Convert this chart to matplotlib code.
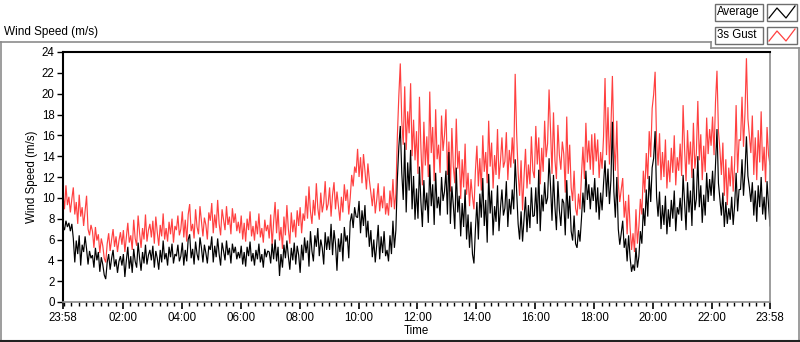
import matplotlib
matplotlib.use("Agg")
import matplotlib.pyplot as plt
from matplotlib.lines import Line2D
from matplotlib.patches import Rectangle

plt.rcParams['font.family'] = ['Liberation Sans', 'DejaVu Sans']

# ---------------- data (3-minute samples starting 23:58) ----------------
sample_minutes = 3

gust = [
    10.4, 8.9, 11.2, 9.3, 10.1, 8.6, 9.9, 11.0, 8.4, 9.6, 7.5, 10.3, 8.2, 9.1, 7.3, 8.8, 10.2, 7.0, 6.4, 7.4,
    6.8, 5.2, 7.2, 5.9, 6.5, 4.7, 6.1, 5.4, 4.2, 3.8, 5.6, 6.6, 4.9, 6.0, 7.0, 5.3, 6.3, 4.8, 5.9, 6.7,
    5.5, 6.9, 4.8, 6.2, 7.6, 5.7, 6.4, 5.0, 7.9, 6.1, 5.4, 8.3, 6.6, 5.2, 7.1, 6.0, 8.4, 5.8, 6.9, 7.5,
    6.2, 7.8, 5.6, 8.2, 6.7, 5.4, 7.4, 6.3, 8.5, 6.0, 7.1, 5.8, 7.7, 6.5, 8.0, 5.7, 7.3, 6.9, 8.3, 6.4,
    7.0, 8.7, 6.2, 7.9, 5.8, 8.4, 9.4, 6.8, 7.5, 6.1, 8.9, 7.2, 6.5, 9.2, 7.7, 6.3, 8.1, 7.4, 6.0, 8.6,
    7.8, 9.5, 6.6, 8.4, 7.1, 9.8, 7.5, 6.4, 8.9, 7.9, 6.9, 9.2, 7.4, 8.2, 6.5, 9.0, 7.6, 8.5, 6.8, 7.7,
    6.6, 8.3, 6.0, 7.6, 5.8, 8.0, 6.9, 8.7, 6.3, 7.3, 5.9, 7.8, 6.5, 8.5, 6.2, 7.1, 5.7, 7.9, 6.8, 7.4,
    6.1, 8.4, 5.4, 7.7, 9.6, 6.6, 8.9, 5.9, 7.2, 5.1, 8.2, 6.4, 9.3, 7.0, 5.6, 8.6, 6.7, 7.9, 6.2, 8.8,
    7.3, 9.1, 6.6, 8.5, 7.8, 10.2, 8.0, 11.1, 8.7, 7.5, 9.8, 8.3, 11.4, 9.0, 7.9, 10.5, 8.6, 9.5, 11.6, 8.8,
    9.4, 11.0, 8.2, 10.3, 11.5, 8.9, 10.6, 9.2, 7.8, 10.1, 8.6, 11.3, 9.7, 10.8, 8.4, 10.0, 12.2, 11.1, 13.0, 12.4,
    14.7, 12.0, 13.9, 11.4, 14.2, 12.6, 10.8, 13.3, 11.7, 10.5, 9.2, 10.9, 8.5, 9.8, 11.4, 8.7, 10.2, 9.0, 11.1, 8.4,
    9.5, 8.3, 10.7, 9.1, 11.8, 8.9, 10.4, 15.9, 19.8, 22.9, 17.4, 15.1, 20.7, 14.6, 18.3, 16.2, 21.0, 14.0, 17.5, 13.6,
    16.4, 12.3, 19.7, 14.8, 11.2, 17.3, 13.1, 15.9, 12.0, 20.2, 14.3, 16.8, 11.6, 18.5, 13.7, 15.1, 12.4, 17.9, 14.5, 16.0,
    18.5, 12.2, 15.4, 10.6, 16.7, 13.0, 11.4, 17.6, 12.8, 14.5, 9.9, 13.7, 11.0, 15.2, 10.3, 12.4, 9.2, 11.8, 10.1, 8.9,
    12.6, 15.0, 11.1, 13.8, 10.7, 16.0, 12.5, 14.4, 11.4, 17.4, 13.0, 15.3, 10.9, 14.1, 12.2, 16.6, 11.8, 13.5, 15.8, 12.9,
    13.5, 16.3, 11.7, 14.6, 12.9, 15.8, 13.3, 21.9, 16.1, 12.4, 10.2, 13.6, 8.8, 12.0, 14.7, 10.9, 13.2, 11.3, 15.9, 12.6,
    11.9, 16.9, 13.2, 15.8, 11.3, 14.8, 12.5, 17.4, 13.9, 15.2, 20.4, 16.5, 12.3, 18.2, 13.6, 11.8, 17.0, 14.1, 12.7, 15.4,
    14.2, 10.5, 17.8, 12.3, 15.1, 11.0, 9.7, 12.6, 9.0, 8.3, 10.4, 8.9, 12.2, 14.9, 11.8, 17.2, 13.4, 15.5, 12.7, 16.1,
    12.2, 16.2, 13.5, 15.6, 11.9, 14.4, 12.8, 15.9, 21.5, 14.1, 18.7, 13.2, 16.8, 21.7, 15.3, 12.6, 17.4, 11.3, 9.6, 10.8,
    11.9, 8.1, 9.7, 6.5, 10.3, 7.2, 5.0, 6.6, 4.8, 8.9, 5.6, 7.3, 9.9, 8.4, 12.6, 10.5, 14.3, 11.8, 16.4, 13.9,
    18.6, 19.9, 22.1, 15.4, 13.1, 16.2, 11.7, 14.4, 12.0, 15.6, 10.9, 13.6, 11.5, 14.8, 12.4, 16.0, 11.2, 13.9, 12.6, 15.2,
    12.1, 18.9, 14.7, 11.6, 16.5, 13.2, 15.4, 11.9, 17.2, 12.8, 14.3, 19.3, 13.6, 16.1, 11.7, 15.0, 12.5, 17.7, 14.2, 16.6,
    15.0, 17.8, 14.1, 19.2, 22.2, 16.4, 14.6, 12.2, 15.3, 10.2, 13.7, 9.3, 12.9, 11.1, 14.0, 10.6, 13.3, 18.9, 12.4, 15.6,
    15.5, 19.7, 14.9, 18.1, 23.4, 17.6, 16.0, 14.3, 17.9, 12.2, 15.8, 11.7, 16.5, 13.4, 18.3, 12.6, 14.9, 11.5, 16.8, 14.1,
    13.2,
]

average = [
    7.3, 6.9, 7.8, 7.2, 7.6, 6.8, 7.5, 6.1, 3.8, 5.9, 4.6, 6.4, 3.5, 5.5, 4.8, 6.3, 5.1, 3.6, 4.9, 4.2,
    4.5, 3.3, 5.2, 4.0, 4.8, 2.9, 4.3, 3.6, 2.6, 2.2, 3.8, 4.6, 3.1, 4.2, 5.0, 3.4, 4.1, 2.8, 3.9, 4.4,
    3.5, 4.6, 2.4, 4.0, 5.3, 3.2, 4.4, 2.8, 5.1, 3.9, 3.3, 5.7, 4.2, 3.0, 4.8, 3.7, 5.5, 3.6, 4.5, 5.0,
    4.0, 5.4, 3.3, 4.9, 4.2, 3.1, 5.0, 3.8, 5.9, 4.1, 4.7, 3.5, 5.3, 4.3, 5.6, 3.7, 4.6, 4.4, 5.5, 3.9,
    4.4, 5.7, 3.5, 5.0, 3.9, 6.0, 6.5, 4.2, 5.1, 3.6, 5.8, 4.6, 4.0, 6.2, 5.2, 3.8, 5.5, 4.7, 3.7, 5.4,
    5.0, 6.3, 3.8, 5.4, 4.3, 6.1, 4.6, 3.5, 5.7, 4.9, 4.0, 5.9, 4.5, 5.2, 3.7, 5.6, 4.7, 5.3, 4.1, 4.8,
    4.2, 5.4, 3.6, 4.8, 3.4, 5.3, 4.4, 5.8, 3.9, 4.7, 3.5, 5.0, 4.1, 5.6, 3.8, 4.6, 3.3, 5.1, 4.3, 4.9,
    4.8, 3.7, 5.6, 4.1, 6.0, 3.9, 5.3, 2.5, 4.6, 3.3, 5.5, 4.2, 5.9, 4.4, 3.1, 5.2, 4.0, 5.7, 3.6, 5.4,
    4.5, 2.8, 5.5, 4.0, 6.2, 4.7, 5.9, 3.4, 6.8, 4.9, 3.9, 6.4, 5.3, 7.1, 4.4, 6.0, 5.2, 3.6, 6.7, 5.0,
    6.3, 5.0, 7.5, 4.5, 6.9, 5.6, 3.0, 6.1, 4.8, 6.6, 3.9, 7.2, 5.8, 6.4, 4.2, 7.7, 8.5, 7.1, 9.1, 8.2,
    8.1, 9.7, 6.6, 8.8, 7.3, 9.3, 6.2, 7.8, 5.3, 6.9, 4.3, 6.0, 3.8, 5.5, 7.4, 4.1, 6.3, 4.7, 6.8, 4.4,
    5.0, 3.9, 6.4, 4.6, 7.8, 5.2, 6.9, 11.8, 14.9, 16.9, 12.4, 9.8, 15.3, 8.6, 13.4, 10.7, 14.6, 8.9, 12.1, 7.9,
    10.9, 8.0, 13.0, 9.6, 7.2, 11.7, 8.8, 10.5, 7.6, 13.2, 9.2, 11.3, 7.4, 12.4, 9.0, 10.1, 8.3, 12.0, 9.7, 10.6,
    12.6, 8.4, 14.4, 7.5, 11.1, 9.3, 7.0, 12.9, 8.6, 10.2, 6.3, 9.5, 7.2, 10.8, 6.0, 8.4, 5.2, 7.7, 4.6, 3.7,
    7.0, 9.6, 6.0, 10.4, 8.1, 11.9, 7.3, 9.8, 5.7, 12.3, 8.5, 10.7, 6.4, 9.2, 7.7, 11.2, 6.8, 9.0, 10.8, 8.3,
    9.0, 11.6, 7.2, 9.9, 8.4, 10.8, 8.9, 13.7, 10.6, 7.5, 6.0, 8.7, 5.8, 7.9, 10.1, 6.7, 9.3, 7.1, 11.0, 8.2,
    8.3, 11.0, 7.5, 12.7, 6.8, 10.3, 8.7, 11.5, 9.4, 10.0, 13.8, 11.1, 7.8, 12.2, 9.1, 6.9, 11.6, 8.8, 7.3, 9.9,
    9.5, 6.4, 11.7, 8.0, 10.2, 6.8, 5.9, 8.3, 5.6, 5.2, 6.9, 5.8, 8.0, 10.5, 8.6, 12.6, 9.8, 11.3, 8.9, 11.0,
    9.7, 11.9, 8.6, 11.0, 7.9, 10.5, 8.8, 11.4, 13.6, 10.1, 12.8, 9.4, 11.7, 17.3, 10.6, 8.1, 12.0, 7.0, 5.5, 6.6,
    7.8, 5.2, 6.1, 3.9, 6.4, 4.3, 2.9, 3.6, 3.0, 5.2, 3.3, 4.4, 6.8, 5.6, 9.0, 7.3, 10.8, 8.2, 12.1, 9.6,
    12.9, 13.8, 16.4, 10.1, 8.2, 10.6, 7.0, 9.3, 7.4, 10.2, 6.5, 8.9, 7.2, 9.8, 8.0, 10.7, 6.8, 9.1, 8.4, 10.0,
    7.8, 12.2, 9.5, 6.9, 11.5, 8.6, 10.7, 7.3, 12.8, 8.8, 9.9, 14.0, 9.1, 11.2, 7.6, 10.3, 8.3, 12.4, 9.6, 11.8,
    10.2, 12.6, 9.7, 13.2, 16.6, 11.4, 9.8, 8.3, 10.5, 7.2, 9.6, 7.5, 9.0, 7.9, 10.1, 7.4, 9.3, 12.4, 8.7, 10.8,
    10.8, 13.7, 10.2, 12.5, 15.9, 12.1, 11.0, 9.6, 11.5, 8.3, 10.7, 7.7, 11.2, 9.1, 12.0, 8.4, 10.1, 7.9, 11.6, 9.3,
    7.3,
]

major_tick_labels = ["23:58", "02:00", "04:00", "06:00", "08:00", "10:00",
                     "12:00", "14:00", "16:00", "18:00", "20:00", "22:00", "23:58"]
major_tick_minutes = [0, 122, 242, 362, 482, 602, 722, 842, 962, 1082, 1202, 1322, 1440]
y_ticks = list(range(0, 25, 2))

series_names = ["Average", "3s Gust"]
series_colors = ["#000000", "#ff4040"]

# ---------------- figure ----------------
W, H = 800, 342
fig = plt.figure(figsize=(W / 100, H / 100), dpi=100)

def fx(px):
    return px / W

def fy(py):
    return 1 - py / H

ax = fig.add_axes([fx(63), fy(302), fx(770) - fx(63), fy(52) - fy(302)])

t = [i * sample_minutes for i in range(len(average))]
ax.plot(t, gust, color=series_colors[1], lw=0.85, solid_joinstyle='miter')
ax.plot(t, average, color=series_colors[0], lw=0.85, solid_joinstyle='miter')

ax.set_xlim(0, 1440)
ax.set_ylim(0, 24)
ax.set_yticks(y_ticks)
ax.set_xticks(major_tick_minutes)
ax.set_xticklabels(major_tick_labels)
minor = [m for m in range(2, 1440, 15) if m not in major_tick_minutes]
ax.set_xticks(minor, minor=True)

ax.tick_params(axis='both', which='major', direction='out', length=4, width=1,
               labelsize=8.3, colors='black', pad=2)
ax.tick_params(axis='x', which='major', length=5, width=1.2)
ax.tick_params(axis='x', which='minor', direction='out', length=3, width=1)

for s in ['top', 'left']:
    ax.spines[s].set_color('black')
    ax.spines[s].set_linewidth(1.5)
for s in ['bottom', 'right']:
    ax.spines[s].set_color('#8c8c8c')
    ax.spines[s].set_linewidth(1.2)

ax.set_ylabel("Wind Speed (m/s)", fontsize=8.3, labelpad=3)
ax.set_xlabel("Time", fontsize=8.3, labelpad=1)

# title
fig.text(fx(4), fy(32), "Wind Speed (m/s)", fontsize=8.5, va='center', ha='left')

# outer panel frame
gray = '#8c8c8c'
fig.add_artist(Line2D([fx(0), fx(711)], [fy(42), fy(42)], color=gray, lw=1.2))
fig.add_artist(Line2D([fx(711), fx(711)], [fy(42), fy(48)], color=gray, lw=1.2))
fig.add_artist(Line2D([fx(711), fx(799)], [fy(48), fy(48)], color=gray, lw=1.2))
fig.add_artist(Line2D([fx(798.5), fx(798.5)], [fy(48), fy(341)], color=gray, lw=1.2))
fig.add_artist(Line2D([fx(0.5), fx(0.5)], [fy(42), fy(341)], color=gray, lw=1.2))
fig.add_artist(Line2D([fx(0), fx(799)], [fy(340.5), fy(340.5)], color='#222222', lw=1.5))

# legend
for i, (name, col) in enumerate(zip(series_names, series_colors)):
    y0 = 4 + i * 23
    fig.add_artist(Rectangle((fx(715), fy(y0 + 17)), fx(763) - fx(715), fy(y0) - fy(y0 + 17),
                             facecolor='white', edgecolor='#6e6e6e', lw=1.0))
    fig.text(fx(717), fy(y0 + 8.5), name, fontsize=8.3, va='center', ha='left')
    fig.add_artist(Rectangle((fx(767), fy(y0 + 17)), fx(797) - fx(767), fy(y0) - fy(y0 + 17),
                             facecolor='white', edgecolor='#6e6e6e', lw=1.0))
    zx = [769, 777, 786, 795]
    zy = [y0 + 14, y0 + 4, y0 + 14, y0 + 2]
    fig.add_artist(Line2D([fx(v) for v in zx], [fy(v) for v in zy], color=col, lw=0.9))

fig.savefig("out.png", dpi=100)
